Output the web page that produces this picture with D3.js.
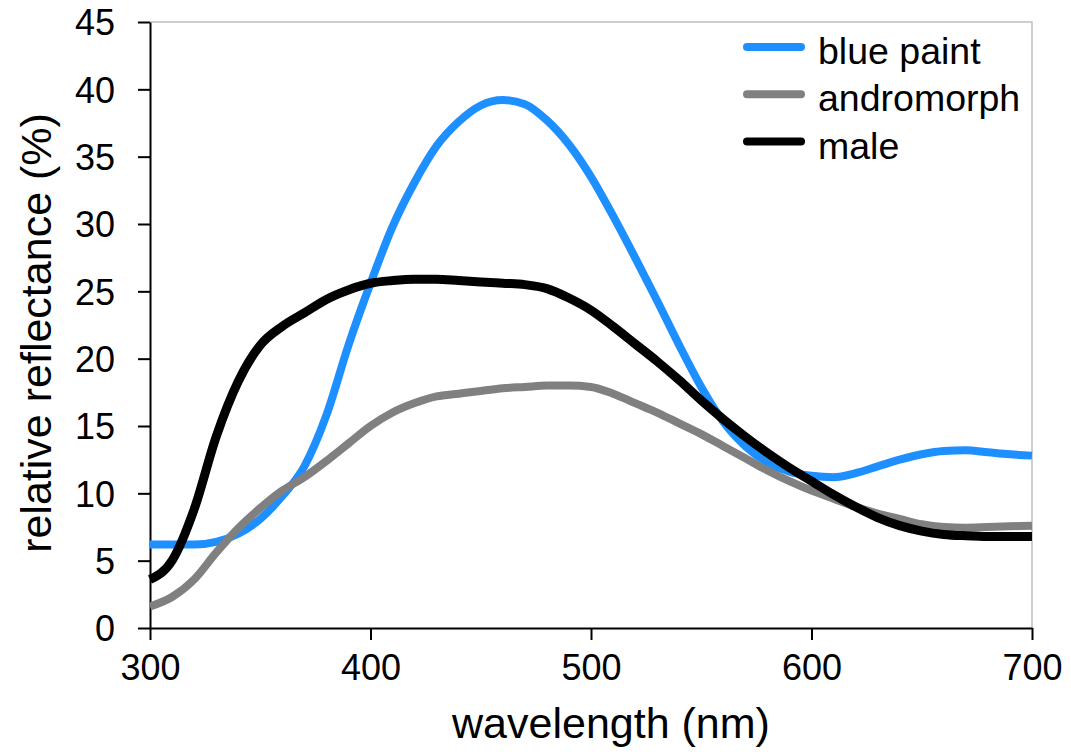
<!DOCTYPE html>
<html>
<head>
<meta charset="utf-8">
<script src="https://cdn.jsdelivr.net/npm/d3@7"></script>
<style>
  body { margin: 0; background: #fff; }
  svg { font-family: "Liberation Sans", Arial, sans-serif; }
</style>
</head>
<body>
<div id="chart"></div>
<script>
const width = 1071, height = 755;

// wavelengths (nm)
const wavelength = [300, 310, 320, 330, 340, 350, 360, 370, 380, 390,
  400, 410, 420, 430, 440, 450, 460, 470, 480, 490,
  500, 510, 520, 530, 540, 550, 560, 570, 580, 590,
  600, 610, 620, 630, 640, 650, 660, 670, 680, 690, 700];

// reflectance (%)
const bluePaint = [6.2, 6.2, 6.2, 6.4, 7.0, 8.1, 9.8, 12.0, 15.8, 21.0,
  25.6, 29.8, 33.1, 35.8, 37.6, 38.8, 39.2, 38.9, 37.7, 35.9,
  33.5, 30.6, 27.5, 24.3, 21.0, 17.9, 15.3, 13.5, 12.3, 11.6,
  11.3, 11.2, 11.5, 12.0, 12.5, 12.9, 13.15, 13.2, 13.05, 12.9, 12.8];
const andromorph = [1.6, 2.3, 3.6, 5.6, 7.4, 8.9, 10.2, 11.2, 12.4, 13.7,
  15.0, 16.0, 16.7, 17.2, 17.4, 17.6, 17.8, 17.9, 18.0, 18.0,
  17.9, 17.4, 16.7, 16.0, 15.2, 14.4, 13.5, 12.6, 11.7, 10.9,
  10.2, 9.6, 9.0, 8.5, 8.1, 7.7, 7.5, 7.45, 7.5, 7.55, 7.6];
const male = [3.6, 5.0, 8.8, 14.2, 18.3, 21.0, 22.4, 23.4, 24.4, 25.1,
  25.6, 25.8, 25.9, 25.9, 25.8, 25.7, 25.6, 25.5, 25.2, 24.5,
  23.6, 22.4, 21.1, 19.8, 18.4, 16.9, 15.5, 14.2, 13.0, 11.9,
  10.9, 9.9, 9.0, 8.2, 7.6, 7.2, 6.95, 6.85, 6.8, 6.8, 6.8];

const seriesNames = ['blue paint', 'andromorph', 'male'];
const seriesValues = [bluePaint, andromorph, male];
const seriesColors = ['#1e8fff', '#808080', '#000000'];

const xTicks = [300, 400, 500, 600, 700];
const yTicks = [0, 5, 10, 15, 20, 25, 30, 35, 40, 45];

const margin = { top: 22, right: 39, bottom: 127, left: 150 };
const w = width - margin.left - margin.right,
      h = height - margin.top - margin.bottom;

const svg = d3.select('#chart').append('svg')
  .attr('width', width)
  .attr('height', height);

const chart = svg.append('g')
  .attr('transform', `translate(${margin.left},${margin.top})`);

const x = d3.scaleLinear().domain([300, 700]).range([0, w]);
const y = d3.scaleLinear().domain([0, 45]).range([h, 0]);

// light frame on top and right
chart.append('path')
  .attr('d', `M0,0H${w}V${h}`)
  .attr('fill', 'none')
  .attr('stroke', '#bfbfbf')
  .attr('stroke-width', 1.5);

// axes
const xAxis = chart.append('g')
  .attr('transform', `translate(0,${h})`)
  .call(d3.axisBottom(x).tickValues(xTicks).tickSize(12).tickPadding(14).tickSizeOuter(0));
const yAxis = chart.append('g')
  .call(d3.axisLeft(y).tickValues(yTicks).tickSize(12).tickPadding(23).tickSizeOuter(0));

[xAxis, yAxis].forEach(a => {
  a.select('.domain').attr('stroke', '#000').attr('stroke-width', 2);
  a.selectAll('.tick line').attr('stroke', '#000').attr('stroke-width', 2);
  a.selectAll('.tick text')
    .attr('fill', '#000')
    .style('font-size', '36px')
    .style('font-family', '"Liberation Sans", Arial, sans-serif');
});
yAxis.selectAll('.tick text').attr('dy', '0.36em');

// series lines
const line = d3.line()
  .x((d, i) => x(wavelength[i]))
  .y(d => y(d))
  .curve(d3.curveMonotoneX);

seriesValues.forEach((vals, k) => {
  chart.append('path')
    .datum(vals)
    .attr('fill', 'none')
    .attr('stroke', seriesColors[k])
    .attr('stroke-width', k === 2 ? 9 : 8)
    .attr('stroke-linejoin', 'round')
    .attr('d', line);
});

// axis titles
svg.append('text')
  .attr('x', 611)
  .attr('y', 738)
  .attr('text-anchor', 'middle')
  .style('font-size', '43px')
  .text('wavelength (nm)');

svg.append('text')
  .attr('transform', 'translate(51,333) rotate(-90)')
  .attr('text-anchor', 'middle')
  .style('font-size', '43px')
  .text('relative reflectance (%)');

// legend
const legend = svg.append('g').attr('transform', 'translate(747,47)');
seriesNames.forEach((name, k) => {
  const g = legend.append('g').attr('transform', `translate(0,${k * 47.3})`);
  g.append('line')
    .attr('x1', 0).attr('x2', 54)
    .attr('stroke', seriesColors[k])
    .attr('stroke-width', 8)
    .attr('stroke-linecap', 'round');
  g.append('text')
    .attr('x', 71)
    .attr('y', 17)
    .style('font-size', '37.5px')
    .text(name);
});
</script>
</body>
</html>
